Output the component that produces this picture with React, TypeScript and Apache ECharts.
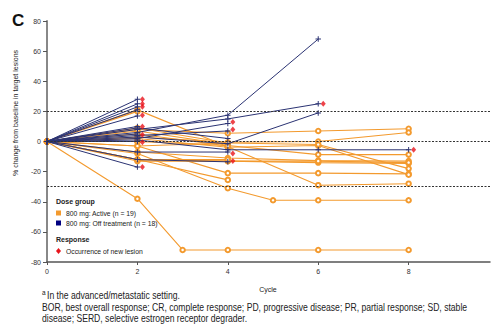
import React, { useEffect, useRef } from "react";
import * as echarts from "echarts";

// ---- data (cycle, % change from baseline) ----
const cycleTicks = [0, 2, 4, 6, 8];
const referenceLevels = [20, 0, -30];

const activePatients: number[][][] = [
  [[0, 0], [2, 21], [4, -3.5], [6, -29], [8, -28]],
  [[0, 0], [2, 8], [4, 5.5], [6, 7], [8, 8.5]],
  [[0, 0], [2, 3], [4, -0.5], [6, 0], [8, 6]],
  [[0, 0], [2, -38], [3, -72], [4, -72], [6, -72], [8, -72]],
  [[0, 0], [2, -8], [4, -31], [5, -39], [6, -39], [8, -39]],
  [[0, 0], [2, -3], [4, -21], [6, -21], [8, -21.5]],
  [[0, 0], [2, -12], [4, -25.5]],
  [[0, 0], [2, -12], [4, -13], [6, -14], [8, -14.5]],
  [[0, 0], [2, -7], [4, -11], [6, -12.7], [8, -13]],
  [[0, 0], [2, 0], [4, -2.7], [6, -8.7], [8, -8.7]],
  [[0, 0], [2, 2], [4, -3.8], [6, -2.7], [8, -22]],
  [[0, 0], [2, 9], [4, -1], [6, -2], [8, -18]],
  [[0, 0], [2, -13], [4, -13], [6, -13], [8, -14]],
  [[0, 0], [2, 7], [4, -2]],
  [[0, 0], [2, 20]],
  [[0, 0], [2, 0]],
  [[0, 0], [2, -3], [4, -1]],
  [[0, 0], [2, 5], [4, -3]],
  [[0, 0], [2, -12], [4, -12]],
];

const offTreatmentPatients: number[][][] = [
  [[0, 0], [2, 28]],
  [[0, 0], [2, 25]],
  [[0, 0], [2, 23]],
  [[0, 0], [2, 21]],
  [[0, 0], [2, 17]],
  [[0, 0], [2, 10]],
  [[0, 0], [2, 5]],
  [[0, 0], [2, 0]],
  [[0, 0], [2, -17]],
  [[0, 0], [2, 6], [4, 17.5], [6, 68]],
  [[0, 0], [2, 8], [4, 15], [6, 25]],
  [[0, 0], [2, 3], [4, -1.5], [6, 19]],
  [[0, 0], [2, 2], [4, 12]],
  [[0, 0], [2, 4], [4, 7]],
  [[0, 0], [2, -7], [4, -7]],
  [[0, 0], [2, -12], [4, -13.5]],
  [[0, 0], [2, 1], [4, -5.5], [6, -5.5], [8, -5.5]],
  [[0, 0], [2, 9], [4, 2]],
];

const newLesionPoints = [
  [2, 28], [2, 25], [2, 23], [2, 17.5], [2, 10], [2, 4.5], [2, -0.5], [2, -17],
  [4, 13], [4, 8], [4, -8], [4, -13], [6, 25], [8, -5.5],
];

const legendLabels = {
  doseTitle: "Dose group",
  active: "800 mg: Active (n = 19)",
  off: "800 mg: Off treatment (n = 18)",
  responseTitle: "Response",
  lesion: "Occurrence of new lesion",
};

const ORANGE = "#F39A2E";
const NAVY = "#2B3373";
const RED = "#E8141B";
const FONT = "Liberation Sans, Arial, sans-serif";
const PLUS =
  "path://M-0.18,-1H0.18V-0.18H1V0.18H0.18V1H-0.18V0.18H-1V-0.18H-0.18Z";

export default function App() {
  const ref = useRef<HTMLDivElement>(null);
  useEffect(() => {
    if (!ref.current) return;
    const chart = echarts.init(ref.current, null, { renderer: "svg" });

    const series: any[] = [];
    activePatients.forEach((d, i) => {
      series.push({
        type: "line",
        data: d,
        symbol: "emptyCircle",
        symbolSize: 4.5,
        showSymbol: true,
        itemStyle: { color: ORANGE, borderColor: ORANGE, borderWidth: 1.2 },
        lineStyle: { color: ORANGE, width: 1.1 },
        z: 2,
        silent: true,
        markLine:
          i === 0
            ? {
                symbol: "none",
                silent: true,
                label: { show: false },
                lineStyle: { color: "#333", type: [2, 1.5], width: 1.2 },
                data: referenceLevels.map((v) => ({ yAxis: v })),
              }
            : undefined,
      });
    });
    offTreatmentPatients.forEach((d) => {
      series.push({
        type: "line",
        data: d,
        symbol: PLUS,
        symbolSize: 5.5,
        showSymbol: true,
        itemStyle: { color: NAVY },
        lineStyle: { color: NAVY, width: 1 },
        z: 3,
        silent: true,
      });
    });
    series.push({
      type: "scatter",
      data: newLesionPoints,
      symbol: "diamond",
      symbolSize: [5, 6],
      symbolOffset: [5, 0],
      itemStyle: { color: RED },
      z: 5,
      silent: true,
    });

    const txt = (
      x: number,
      y: number,
      text: string,
      size: number,
      extra: any = {},
      el: any = {}
    ) => ({
      type: "text",
      x,
      y,
      ...el,
      style: {
        text,
        fontSize: size,
        fontFamily: FONT,
        fill: "#222",
        verticalAlign: "middle",
        ...extra,
      },
    });

    chart.setOption({
      animation: false,
      backgroundColor: "#fff",
      grid: { left: 47, right: 4, top: 21, bottom: 62, containLabel: false },
      xAxis: {
        type: "value",
        min: 0,
        max: 9.8,
        interval: 2,
        axisLine: { onZero: false, lineStyle: { color: "#555", width: 1.5 } },
        axisTick: { customValues: cycleTicks, length: 3, lineStyle: { color: "#555" } },
        axisLabel: {
          customValues: cycleTicks,
          fontSize: 7,
          color: "#333",
          fontFamily: FONT,
          margin: 6,
        },
        splitLine: { show: false },
      },
      yAxis: {
        type: "value",
        min: -80,
        max: 80,
        interval: 20,
        axisLine: { show: true, onZero: false, lineStyle: { color: "#888", width: 2 } },
        axisTick: { show: true, length: 4, lineStyle: { color: "#555" } },
        axisLabel: { fontSize: 7, color: "#333", fontFamily: FONT, margin: 6 },
        splitLine: { show: false },
      },
      series,
      graphic: [
        txt(12, 20, "C", 17, { fontWeight: "bold", fill: "#111" }),
        txt(15, 113, "% change from baseline in target lesions", 7, { align: "center" }, { rotation: Math.PI / 2 }),
        txt(268, 289, "Cycle", 7, { align: "center" }),
        txt(56, 201.5, legendLabels.doseTitle, 7, { fontWeight: "bold" }),
        { type: "rect", shape: { x: 56, y: 210.5, width: 5, height: 5 }, style: { fill: ORANGE } },
        txt(66, 213, legendLabels.active, 6.8),
        { type: "rect", shape: { x: 56, y: 220.5, width: 5, height: 5 }, style: { fill: "#000080" } },
        txt(66, 223, legendLabels.off, 6.8),
        txt(56, 239.5, legendLabels.responseTitle, 7, { fontWeight: "bold" }),
        {
          type: "polygon",
          shape: { points: [[58.5, 248], [61, 251], [58.5, 254], [56, 251]] },
          style: { fill: RED },
        },
        txt(66, 251, legendLabels.lesion, 6.8),
        txt(42, 292, "a", 6.5),
        txt(47, 295.5, "In the advanced/metastatic setting.", 10.5, {}, { scaleX: 0.82 }),
        txt(
          42,
          307,
          "BOR, best overall response; CR, complete response; PD, progressive disease; PR, partial response; SD, stable",
          10.5,
          {},
          { scaleX: 0.82 }
        ),
        txt(42, 318, "disease; SERD, selective estrogen receptor degrader.", 10.5, {}, { scaleX: 0.82 }),
      ],
    });
    return () => chart.dispose();
  }, []);
  return (
    <div
      ref={ref}
      style={{ position: "fixed", left: 0, top: 0, width: 494, height: 324 }}
    />
  );
}
